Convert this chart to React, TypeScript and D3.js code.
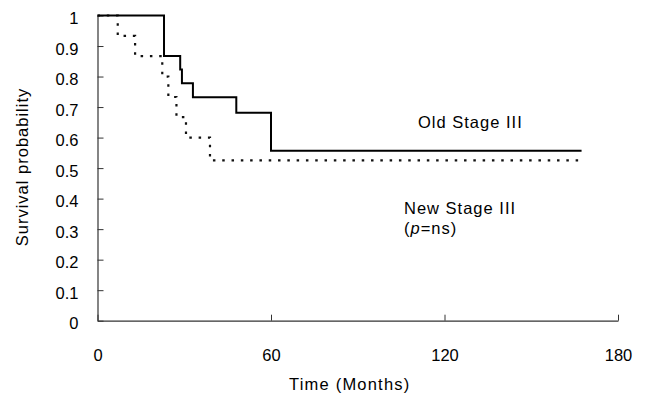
import React, { useEffect, useRef } from 'react';
import * as d3 from 'd3';

// Kaplan-Meier curves (months, survival)
const oldTimes = [0, 23, 28.6, 29.2, 33, 48, 60, 167.4];
const oldSurvival = [1, 0.867, 0.823, 0.778, 0.732, 0.681, 0.557, 0.557];
const newTimes = [0, 7, 13, 22.4, 24.5, 27.3, 30.6, 38.9, 166.6];
const newSurvival = [1, 0.933, 0.867, 0.8, 0.733, 0.667, 0.6, 0.525, 0.525];

const xTicks = [0, 60, 120, 180];
const yTicks = [0, 0.1, 0.2, 0.3, 0.4, 0.5, 0.6, 0.7, 0.8, 0.9, 1];

const width = 646;
const height = 396;
const margin = { top: 15.5, right: 28, bottom: 75.3, left: 97.5 };

const font = '"Liberation Sans", Arial, sans-serif';

const App = () => {

  const chartRef = useRef<SVGSVGElement>(null);

  useEffect(() => {
    const svg = d3.select(chartRef.current);
    svg.selectAll('*').remove();

    const xScale = d3.scaleLinear()
      .domain([0, 180])
      .range([margin.left, width - margin.right]);

    const yScale = d3.scaleLinear()
      .domain([0, 1])
      .range([height - margin.bottom, margin.top]);

    const xAxis = d3.axisBottom(xScale)
      .tickValues(xTicks)
      .tickSizeInner(-6)
      .tickSizeOuter(0)
      .tickPadding(29)
      .tickFormat(d => String(d));

    const yAxis = d3.axisLeft(yScale)
      .tickValues(yTicks)
      .tickSizeInner(-6)
      .tickSizeOuter(0)
      .tickPadding(19)
      .tickFormat(d => (d === 0 || d === 1) ? String(d) : d3.format('.1f')(d as number));

    svg.append('g')
      .attr('transform', `translate(0, ${height - margin.bottom})`)
      .call(xAxis)
      .call(g => g.selectAll('.domain').attr('stroke', '#333').attr('stroke-width', 1.2))
      .call(g => g.selectAll('.tick line').attr('stroke', '#333'))
      .call(g => g.selectAll('text')
        .attr('fill', '#000')
        .attr('font-family', font)
        .attr('font-size', 16.5));

    svg.append('g')
      .attr('transform', `translate(${margin.left}, 0)`)
      .call(yAxis)
      .call(g => g.selectAll('.domain').attr('stroke', '#333').attr('stroke-width', 1.2))
      .call(g => g.selectAll('.tick line').attr('stroke', '#333'))
      .call(g => g.selectAll('text')
        .attr('fill', '#000')
        .attr('font-family', font)
        .attr('font-size', 16.5)
        .attr('dy', '0.5em'));

    const line = d3.line<[number, number]>()
      .x(d => xScale(d[0]))
      .y(d => yScale(d[1]))
      .curve(d3.curveStepAfter);

    const oldData = oldTimes.map((t, i) => [t, oldSurvival[i]] as [number, number]);
    const newData = newTimes.map((t, i) => [t, newSurvival[i]] as [number, number]);

    svg.append('path')
      .datum(newData)
      .attr('d', line)
      .attr('fill', 'none')
      .attr('stroke', '#111')
      .attr('stroke-width', 2.2)
      .attr('stroke-dasharray', '2.5,6.8');

    svg.append('path')
      .datum(oldData)
      .attr('d', line)
      .attr('fill', 'none')
      .attr('stroke', '#000')
      .attr('stroke-width', 2);

    const label = (x: number, y: number, text: string) =>
      svg.append('text')
        .attr('x', x)
        .attr('y', y)
        .attr('font-family', font)
        .attr('font-size', 16.5)
        .attr('letter-spacing', 1)
        .text(text);

    label(418, 128, 'Old Stage III');
    label(404, 214, 'New Stage III');

    const pLabel = svg.append('text')
      .attr('x', 404)
      .attr('y', 234)
      .attr('font-family', font)
      .attr('font-size', 16.5)
      .attr('letter-spacing', 1);
    pLabel.append('tspan').text('(');
    pLabel.append('tspan').attr('font-style', 'italic').text('p');
    pLabel.append('tspan').text('=ns)');

    svg.append('text')
      .attr('x', (margin.left + width - margin.right) / 2 - 8)
      .attr('y', 390)
      .attr('text-anchor', 'middle')
      .attr('font-family', font)
      .attr('font-size', 16.5)
      .attr('letter-spacing', 1.2)
      .text('Time (Months)');

    svg.append('text')
      .attr('transform', 'translate(28, 167) rotate(-90)')
      .attr('text-anchor', 'middle')
      .attr('font-family', font)
      .attr('font-size', 16.5)
      .attr('letter-spacing', 1)
      .text('Survival probability');
  });

  return (
    <svg
      ref={chartRef}
      width={width}
      height={height}
      viewBox={`0 0 ${width} ${height}`}
      style={{ position: 'absolute', left: 0, top: 0, background: '#fff' }}
    />
  );
};

export default App;
